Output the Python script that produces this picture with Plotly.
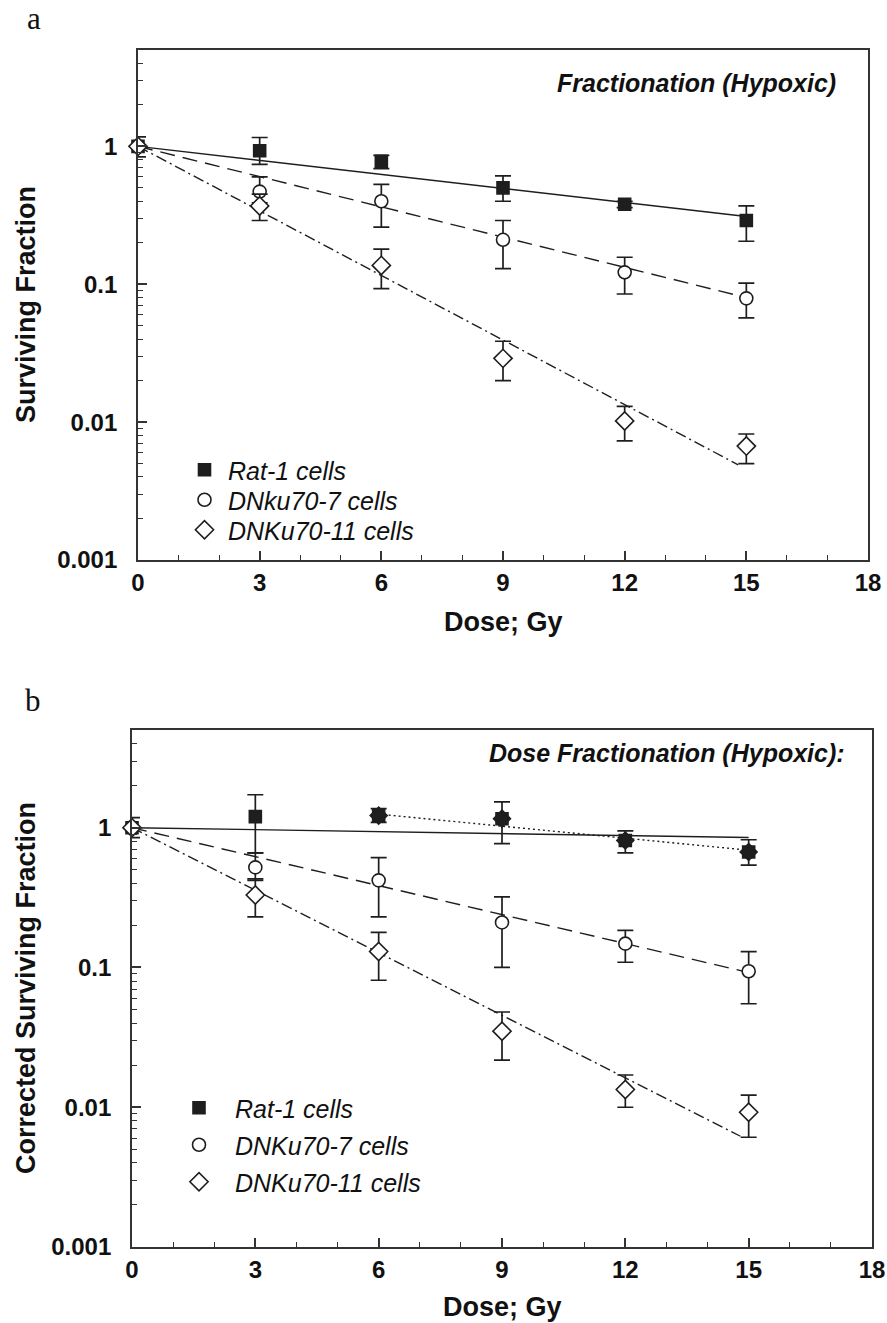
import math
import plotly.graph_objects as go

# ---------------- data ----------------
dose = [0, 3, 6, 9, 12, 15]

# Panel a: Fractionation (Hypoxic)
a_rat_y = [1.0, 0.93, 0.78, 0.50, 0.38, 0.29]
a_rat_hi = [1.17, 1.16, 0.86, 0.61, 0.40, 0.37]
a_rat_lo = [0.84, 0.74, 0.69, 0.40, 0.36, 0.205]

a_ku7_y = [1.0, 0.47, 0.40, 0.21, 0.122, 0.079]
a_ku7_hi = [1.0, 0.60, 0.53, 0.29, 0.157, 0.102]
a_ku7_lo = [1.0, 0.39, 0.26, 0.13, 0.085, 0.057]

a_ku11_y = [1.0, 0.37, 0.137, 0.029, 0.0102, 0.0067]
a_ku11_hi = [1.0, 0.45, 0.18, 0.0386, 0.013, 0.0082]
a_ku11_lo = [1.0, 0.29, 0.093, 0.020, 0.0073, 0.0050]

fit_dose = [0, 15]
fit_dose_11 = [0, 14.8]
a_fit_rat = [1.0, 0.31]
a_fit_ku7 = [1.0, 0.08]
a_fit_ku11 = [1.0, 0.0049]

# Panel b: Dose Fractionation (Hypoxic), corrected
b_rat_y = [1.0, 1.2, 1.22, 1.16, 0.81, 0.67]
b_rat_hi = [1.18, 1.72, 1.37, 1.53, 0.95, 0.82]
b_rat_lo = [0.85, 0.66, 1.09, 0.77, 0.66, 0.54]

b_ku7_y = [1.0, 0.52, 0.42, 0.21, 0.148, 0.094]
b_ku7_hi = [1.0, 0.66, 0.61, 0.32, 0.184, 0.13]
b_ku7_lo = [1.0, 0.42, 0.23, 0.10, 0.109, 0.055]

b_ku11_y = [1.0, 0.33, 0.13, 0.035, 0.0134, 0.0092]
b_ku11_hi = [1.0, 0.43, 0.178, 0.048, 0.017, 0.0122]
b_ku11_lo = [1.0, 0.23, 0.081, 0.0217, 0.0100, 0.0061]

b_fit_rat = [1.0, 0.85]
b_dot_dose = [6, 15]
b_fit_rat_dot = [1.25, 0.69]
b_fit_ku7 = [1.0, 0.092]
b_fit_ku11 = [1.0, 0.0062]

x_ticks = [0, 3, 6, 9, 12, 15, 18]
y_ticks = [0.001, 0.01, 0.1, 1]
y_ticktext = ["0.001", "0.01", "0.1", "1"]

legend_a = ["Rat-1 cells", "DNku70-7 cells", "DNKu70-11 cells"]
legend_b = ["Rat-1 cells", "DNKu70-7 cells", "DNKu70-11 cells"]

# ---------------- style ----------------
INK = "#1e1e1e"
FONT = "Liberation Sans, Arial, sans-serif"
W, H = 887, 1323

fig = go.Figure()


def add_fit(x, y, dash, xa, ya):
    fig.add_trace(go.Scatter(
        x=x, y=y, mode="lines", showlegend=False, hoverinfo="skip",
        line=dict(color=INK, width=1.4, dash=dash), xaxis=xa, yaxis=ya))


def add_pts(y, hi, lo, symbol, fill, size, name, xa, ya, legend, show=True, x=None, err=True):
    x = dose if x is None else x
    ey = None
    if err:
        ey = dict(type="data", symmetric=False,
                  array=[h - v for h, v in zip(hi, y)],
                  arrayminus=[v - l for v, l in zip(y, lo)],
                  color=INK, thickness=1.7, width=8)
    fig.add_trace(go.Scatter(
        x=x, y=y, mode="markers", name=name, showlegend=show, legend=legend,
        marker=dict(symbol=symbol, size=size, color=fill,
                    line=dict(color=INK, width=1.6)),
        error_y=ey, cliponaxis=False, xaxis=xa, yaxis=ya))


# Panel a
add_fit(fit_dose, a_fit_rat, "solid", "x", "y")
add_fit(fit_dose, a_fit_ku7, "15px,8px", "x", "y")
add_fit(fit_dose_11, a_fit_ku11, "11px,4px,2px,4px", "x", "y")
add_pts(a_rat_y, a_rat_hi, a_rat_lo, "square", INK, 12, legend_a[0], "x", "y", "legend")
add_pts(a_ku7_y, a_ku7_hi, a_ku7_lo, "circle", "white", 13, legend_a[1], "x", "y", "legend2")
add_pts(a_ku11_y, a_ku11_hi, a_ku11_lo, "diamond", "white", 14, legend_a[2], "x", "y", "legend3")

# Panel b
add_fit(fit_dose, b_fit_rat, "solid", "x2", "y2")
add_fit(b_dot_dose, b_fit_rat_dot, "2px,3px", "x2", "y2")
add_fit(fit_dose, b_fit_ku7, "15px,8px", "x2", "y2")
add_fit(fit_dose_11, b_fit_ku11, "11px,4px,2px,4px", "x2", "y2")
add_pts(b_rat_y, b_rat_hi, b_rat_lo, "square", INK, 12, legend_b[0], "x2", "y2", "legend4")
add_pts(b_rat_y[2:], None, None, "diamond", INK, 13, "overlay", "x2", "y2", "legend4",
        show=False, x=dose[2:], err=False)
add_pts(b_ku7_y, b_ku7_hi, b_ku7_lo, "circle", "white", 13, legend_b[1], "x2", "y2", "legend5")
add_pts(b_ku11_y, b_ku11_hi, b_ku11_lo, "diamond", "white", 14, legend_b[2], "x2", "y2", "legend6")

tickfont = dict(family=FONT, size=24, color="#111", weight="bold")

xcommon = dict(range=[0, 18], tickmode="array", tickvals=x_ticks, ticks="inside", ticklen=9,
               tickwidth=1.6, tickcolor="#333", showline=True, linecolor="#333", linewidth=1.8,
               mirror=True, showgrid=False, zeroline=False, tickfont=tickfont, automargin=False,
               minor=dict(dtick=1, ticks="inside", ticklen=5, tickwidth=1.4, tickcolor="#333",
                          showgrid=False))
ycommon = dict(type="log", range=[-3, math.log10(5)], tickmode="array", tickvals=y_ticks,
               ticktext=y_ticktext, ticks="inside", ticklen=9, tickwidth=1.6, tickcolor="#333",
               showline=True, linecolor="#333", linewidth=1.8, mirror=True, showgrid=False,
               zeroline=False, tickfont=tickfont, ticklabelstandoff=14, automargin=False,
               minor=dict(dtick="D1", ticks="inside", ticklen=5, tickwidth=1.4,
                          tickcolor="#333", showgrid=False))

xa_dom = [138 / W, 868 / W]
ya_dom = [1 - 560 / H, 1 - 50 / H]
xb_dom = [132 / W, 872 / W]
yb_dom = [1 - 1247 / H, 1 - 730 / H]

legfont = dict(family=FONT, size=25, color="#111", style="italic")


def leg(xpx, ypx, iw=30):
    return dict(x=xpx / W, y=1 - ypx / H, xanchor="left", yanchor="middle",
                bgcolor="rgba(0,0,0,0)", font=legfont, itemsizing="trace",
                borderwidth=0, itemwidth=iw)


fig.update_layout(
    template="none",
    width=W, height=H, autosize=False,
    margin=dict(l=0, r=0, t=0, b=0, pad=0, autoexpand=False),
    paper_bgcolor="white", plot_bgcolor="white",
    xaxis=dict(domain=xa_dom, anchor="y", ticklabelstandoff=0, **xcommon),
    yaxis=dict(domain=ya_dom, anchor="x", **ycommon),
    xaxis2=dict(domain=xb_dom, anchor="y2", ticklabelstandoff=0, **xcommon),
    yaxis2=dict(domain=yb_dom, anchor="x2", **ycommon),
    legend=leg(181, 470, 37),
    legend2=leg(181, 500, 37),
    legend3=leg(181, 530, 37),
    legend4=leg(163, 1108, 62),
    legend5=leg(163, 1145, 62),
    legend6=leg(163, 1182, 62),
    showlegend=True,
)

ann_font_title = dict(family=FONT, size=25, color="#111", weight="bold", style="italic")
ax_title_font = dict(family=FONT, size=27, color="#111", weight="bold")
label_font = dict(family="Liberation Serif, Times New Roman, serif", size=31, color="#111")

annotations = [
    dict(text="Fractionation (Hypoxic)", x=838 / W, y=1 - 83 / H, xanchor="right", yanchor="middle",
         font=ann_font_title),
    dict(text="Dose Fractionation (Hypoxic):", x=847 / W, y=1 - 753 / H, xanchor="right",
         yanchor="middle", font=ann_font_title),
    dict(text="Dose; Gy", x=503 / W, y=1 - 622 / H, xanchor="center", yanchor="middle",
         font=ax_title_font),
    dict(text="Dose; Gy", x=502 / W, y=1 - 1307 / H, xanchor="center", yanchor="middle",
         font=ax_title_font),
    dict(text="Surviving Fraction", x=26 / W, y=1 - 305 / H, xanchor="center", yanchor="middle",
         textangle=-90, font=ax_title_font),
    dict(text="Corrected Surviving Fraction", x=26 / W, y=1 - 988 / H, xanchor="center",
         yanchor="middle", textangle=-90, font=ax_title_font),
    dict(text="a", x=34 / W, y=1 - 18 / H, xanchor="center", yanchor="middle", font=label_font),
    dict(text="b", x=33 / W, y=1 - 700 / H, xanchor="center", yanchor="middle", font=label_font),
]
for a in annotations:
    a.update(xref="paper", yref="paper", showarrow=False)
fig.update_layout(annotations=annotations)

fig.write_html(
    "out.html",
    config={"displayModeBar": False, "responsive": False},
    post_script="document.body.style.margin='0';document.body.style.overflow='hidden';",
)
